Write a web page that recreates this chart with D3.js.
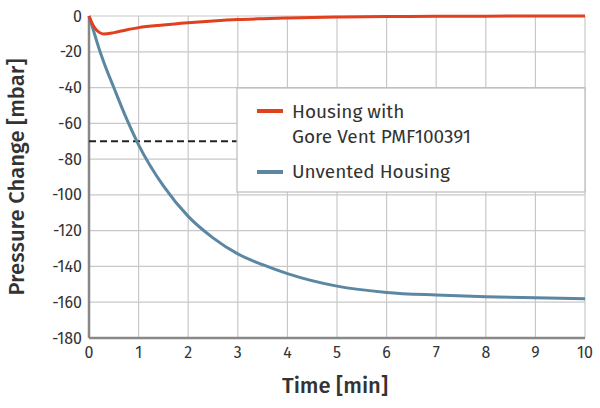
<!DOCTYPE html><html><head><script src="https://cdn.jsdelivr.net/npm/d3@7"></script>
<style>body{margin:0;background:#fff}text{font-family:"Fira Sans","Open Sans",sans-serif}</style></head><body>
<svg id="c" width="600" height="408"></svg>
<script>
const xTicks=[0,1,2,3,4,5,6,7,8,9,10];
const yTicks=[0,-20,-40,-60,-80,-100,-120,-140,-160,-180];
const tVals=[0,0.1,0.2,0.3,0.5,0.75,1,1.5,2,2.5,3,3.5,4,5,6,7,8,9,10];
const vented=[0,-6,-9,-10,-9.3,-7.8,-6.5,-5,-3.8,-2.8,-2,-1.5,-1.1,-0.6,-0.3,-0.2,-0.1,0,0];
const unvented=[0,-9,-18,-26,-40,-57,-72,-95,-112,-124,-133,-139,-144,-151,-154.5,-156,-157,-157.5,-158];
const labels=["Housing with","Gore Vent PMF100391","Unvented Housing"];
const threshold=-70;
const svg=d3.select("#c");
const x=d3.scaleLinear().domain([0,10]).range([89,585]);
const y=d3.scaleLinear().domain([-180,0]).range([338,16]);
const g=svg.append("g");
g.selectAll(".v").data(xTicks).join("line").attr("x1",d=>x(d)).attr("x2",d=>x(d)).attr("y1",y(0)).attr("y2",y(-180)).attr("stroke","#c8c8c8").attr("stroke-width",1.2);
g.selectAll(".h").data(yTicks).join("line").attr("x1",x(0)).attr("x2",x(10)).attr("y1",d=>y(d)).attr("y2",d=>y(d)).attr("stroke","#c8c8c8").attr("stroke-width",1.2);
g.append("line").attr("x1",x(0)).attr("x2",x(0)).attr("y1",y(0)).attr("y2",y(-180)).attr("stroke","#888").attr("stroke-width",2.5);
g.append("line").attr("x1",x(0)).attr("x2",x(10)).attr("y1",y(-180)).attr("y2",y(-180)).attr("stroke","#888").attr("stroke-width",2.5);
g.selectAll(".yt").data(yTicks).join("text").attr("x",x(0)-7).attr("y",d=>y(d)+5.5).attr("text-anchor","end").attr("font-size",16).attr("fill","#333").text(d=>d);
g.selectAll(".xt").data(xTicks).join("text").attr("x",d=>x(d)).attr("y",358).attr("text-anchor","middle").attr("font-size",16).attr("fill","#333").text(d=>d);
svg.append("text").attr("x",x(5)-2).attr("y",393).attr("text-anchor","middle").attr("font-size",22).attr("font-weight","500").attr("fill","#333").text("Time [min]");
svg.append("text").attr("transform","translate(24,177) rotate(-90)").attr("text-anchor","middle").attr("font-size",22).attr("font-weight","500").attr("fill","#333").text("Pressure Change [mbar]");
svg.append("line").attr("x1",x(0)).attr("x2",237).attr("y1",y(threshold)).attr("y2",y(threshold)).attr("stroke","#222").attr("stroke-width",2).attr("stroke-dasharray","7,4");
const line=d3.line().x((d,i)=>x(tVals[i])).y(d=>y(d)).curve(d3.curveMonotoneX);
svg.append("path").attr("d",line(unvented)).attr("fill","none").attr("stroke","#5b87a3").attr("stroke-width",3);
svg.append("path").attr("d",line(vented)).attr("fill","none").attr("stroke","#e1401f").attr("stroke-width",3);
svg.append("rect").attr("x",237).attr("y",88).attr("width",348).attr("height",104).attr("fill","#fff").attr("stroke","#bbb").attr("stroke-width",1.2);
svg.append("line").attr("x1",257).attr("x2",283).attr("y1",111).attr("y2",111).attr("stroke","#e1401f").attr("stroke-width",4);
svg.append("line").attr("x1",257).attr("x2",283).attr("y1",172).attr("y2",172).attr("stroke","#5b87a3").attr("stroke-width",4);
svg.append("text").attr("x",292).attr("y",118).attr("font-size",19).attr("fill","#333").text(labels[0]);
svg.append("text").attr("x",292).attr("y",143).attr("font-size",19).attr("fill","#333").text(labels[1]);
svg.append("text").attr("x",292).attr("y",178).attr("font-size",19).attr("fill","#333").text(labels[2]);
</script></body></html>
